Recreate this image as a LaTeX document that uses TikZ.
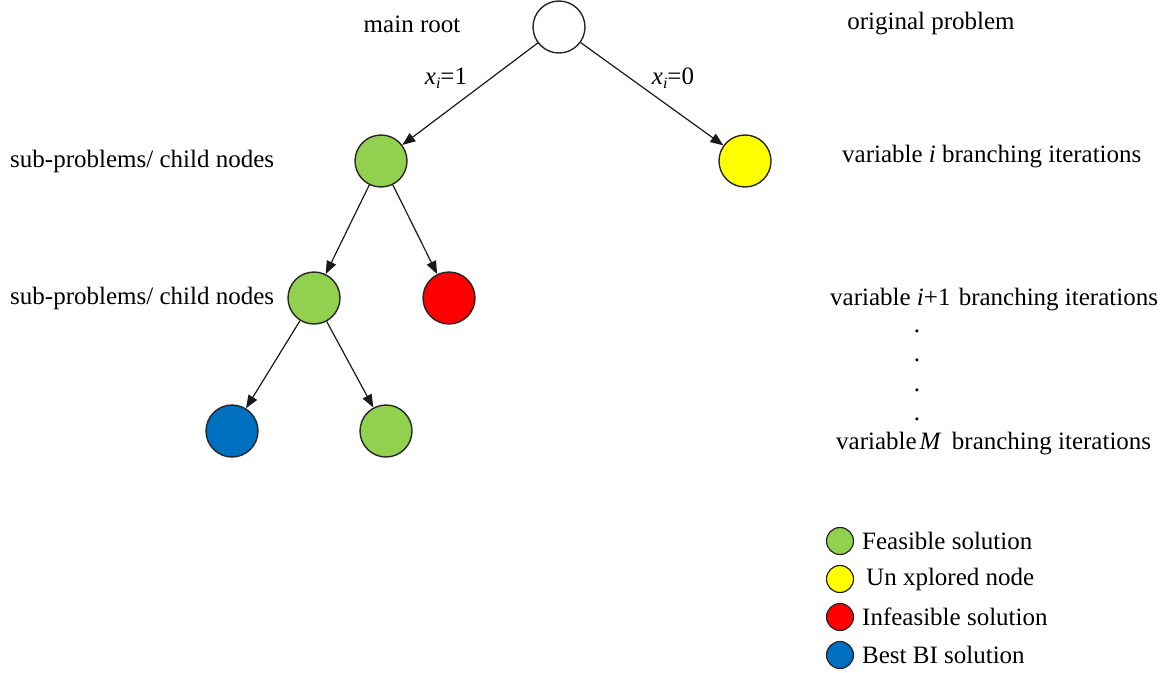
\documentclass[tikz,border=0pt]{standalone}
\usepackage{fontspec}
\setmainfont{Liberation Serif}
\usetikzlibrary{arrows.meta}
\definecolor{feasible}{HTML}{92D050}
\definecolor{unexplored}{HTML}{FFFF00}
\definecolor{infeasible}{HTML}{FF0000}
\definecolor{bestbi}{HTML}{0070C0}
\newcommand{\subi}{\raisebox{-0.35ex}{\fontsize{16}{16}\selectfont\textit{i}}}
\begin{document}
\begin{tikzpicture}[x=1pt,y=-1pt,
  every node/.style={font=\fontsize{25}{30}\selectfont},
  bbnode/.style={circle,draw=black!85,line width=1.4pt,minimum size=52pt,inner sep=0pt},
  keydot/.style={circle,draw=black!85,line width=1.2pt,minimum size=27pt,inner sep=0pt},
  branch/.style={line width=1.2pt,draw=black!90,-{Triangle[length=13pt,width=10pt]}},
  lbl/.style={inner sep=0pt},
]
\useasboundingbox (0,0) rectangle (1167,672);

% search tree
\node[bbnode,fill=white]      (root) at (559,27)  {};
\node[bbnode,fill=feasible]   (c1)   at (381,161) {};
\node[bbnode,fill=unexplored] (c0)   at (745,161) {};
\node[bbnode,fill=feasible]   (g2)   at (314,298) {};
\node[bbnode,fill=infeasible] (r2)   at (449,298) {};
\node[bbnode,fill=bestbi]     (b3)   at (232,431) {};
\node[bbnode,fill=feasible]   (g3)   at (386,431) {};

\draw[branch] (root) -- (c1);
\draw[branch] (root) -- (c0);
\draw[branch] (c1) -- (g2);
\draw[branch] (c1) -- (r2);
\draw[branch] (g2) -- (b3);
\draw[branch] (g2) -- (g3);

% branch labels
\node[lbl] (l1) at (446,78) {\textit{x}\subi=1};
\node[lbl] (l0) at (673,78) {\textit{x}\subi=0};

% left-hand captions
\node[lbl] (mr)  at (412,24) {main root};
\node[lbl,anchor=west] (sp1) at (10,161) {sub-problems/ child nodes};
\node[lbl,anchor=west] (sp2) at (10,298) {sub-problems/ child nodes};

% right-hand captions
\node[lbl] (op) at (931,24) {original problem};
\node[lbl,anchor=west] (vi)  at (842,157) {variable \textit{i} branching iterations};
\node[lbl,anchor=west] (vi1) at (830,300) {variable \textit{i}+1\hspace{2pt} branching iterations};
\node[lbl] (d1) at (917,331) {.};
\node[lbl] (d2) at (917,360) {.};
\node[lbl] (d3) at (917,390) {.};
\node[lbl] (d4) at (917,419) {.};
\node[lbl,anchor=west] (vm)  at (836,444) {variable\hspace{3pt}\textit{M}\hspace{4pt} branching iterations};

% legend
\node[keydot,fill=feasible]   (k1) at (840,541) {};
\node[keydot,fill=unexplored] (k2) at (840,579) {};
\node[keydot,fill=infeasible] (k3) at (840,617) {};
\node[keydot,fill=bestbi]     (k4) at (840,655) {};
\node[lbl,anchor=west] (t1) at (862,541) {Feasible solution};
\node[lbl,anchor=west] (t2) at (866,579) {Un xplored node};
\node[lbl,anchor=west] (t3) at (862,617) {Infeasible solution};
\node[lbl,anchor=west] (t4) at (862,655) {Best BI solution};
\end{tikzpicture}
\end{document}
